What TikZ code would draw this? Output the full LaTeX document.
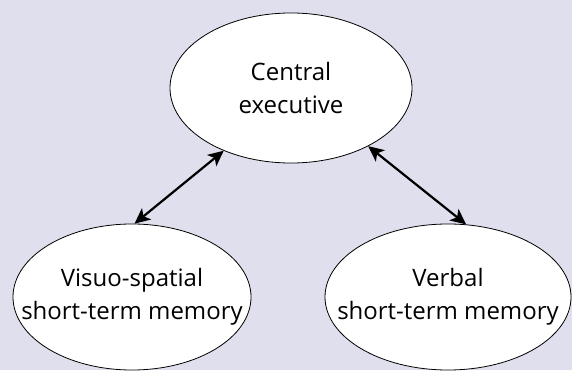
\documentclass[tikz,border=0pt]{standalone}
\usepackage{fontspec}
\setmainfont{Open Sans}
\usetikzlibrary{shapes.geometric,arrows.meta}
\definecolor{bgcol}{RGB}{224,223,237}
\begin{document}
\begin{tikzpicture}[x=1pt,y=1pt,
  memnode/.style={ellipse,draw=black,line width=0.8pt,fill=white,inner sep=0pt},
  lbl/.style={align=center,font=\fontsize{24}{33.5}\selectfont},
  link/.style={line width=2.2pt,{Stealth[length=15.5pt,width=14.5pt,inset=4pt]}-{Stealth[length=15.5pt,width=14.5pt,inset=4pt]}}]
\fill[bgcol] (0,0) rectangle (572,370);
\useasboundingbox (0,0) rectangle (572,370);
\node[memnode,minimum width=242pt,minimum height=150pt,
  label={[lbl]center:Central\\executive}] (ce) at (291,282) {};
\node[memnode,minimum width=238pt,minimum height=146pt,
  label={[lbl]center:Visuo-spatial\\short-term memory}] (vs) at (132,73) {};
\node[memnode,minimum width=246pt,minimum height=146pt,
  label={[lbl]center:Verbal\\short-term memory}] (vb) at (448,73) {};
\draw[link] (vs.88) -- (ce.223);
\draw[link] (vb.76) -- (ce.323);
\end{tikzpicture}
\end{document}
